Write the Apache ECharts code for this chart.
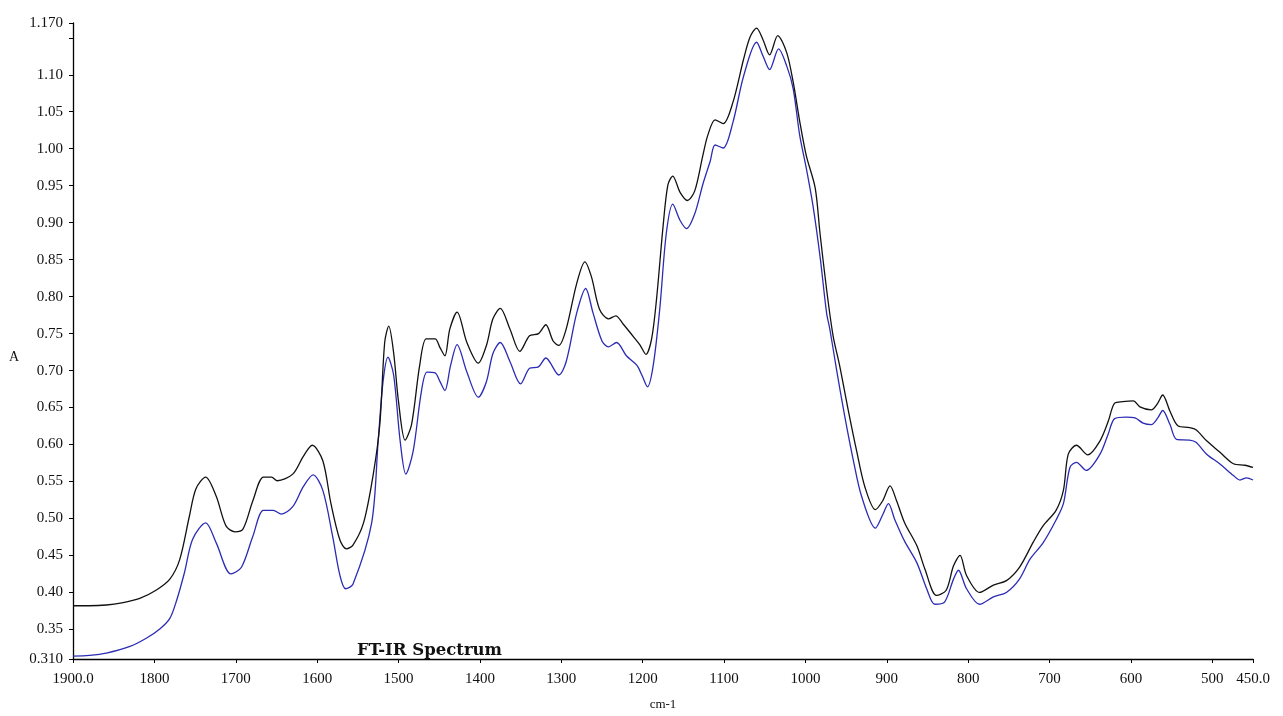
<!DOCTYPE html>
<html>
<head>
<meta charset="utf-8">
<script src="https://cdn.jsdelivr.net/npm/echarts@6/dist/echarts.min.js"></script>
<style>
html,body{margin:0;padding:0;background:#fff;}
#chart{width:1283px;height:716px;}
</style>
</head>
<body>
<div id="chart"></div>
<script>
// Wavenumbers (cm-1) and absorbance for the upper (black) spectrum
var blackWn = [1900,1880,1859,1840,1818,1798,1781,1769,1757,1749,1737,1724,1712,1701,1691,1679,1666,1656,1649,1630,1617,1606,1593,1583,1572,1564,1556,1543,1531,1523,1517,1512,1506,1500,1492,1484,1474,1466,1455,1449,1443,1437,1428,1416,1402,1392,1384,1375,1363,1351,1339,1328,1319,1310,1303,1294,1281,1271,1263,1253,1242,1233,1224,1210,1203,1196,1189,1183,1175,1169,1163,1154,1145,1136,1126,1120,1111,1101,1089,1076,1068,1060,1052,1044,1034,1023,1015,1007,999,988,982,974,966,958,948,937,927,914,905,896,888,878,863,853,839,827,818,810,802,786,769,753,737,720,708,692,683,677,667,653,638,628,620,610,597,589,575,567,561,552,542,528,520,507,491,474,460,450];
var blackA = [0.382,0.382,0.383,0.386,0.392,0.403,0.418,0.444,0.503,0.540,0.556,0.530,0.490,0.482,0.486,0.524,0.556,0.556,0.551,0.560,0.584,0.599,0.578,0.520,0.471,0.459,0.464,0.494,0.560,0.627,0.738,0.760,0.724,0.658,0.606,0.627,0.707,0.743,0.743,0.731,0.720,0.756,0.779,0.738,0.710,0.734,0.770,0.784,0.756,0.726,0.747,0.750,0.762,0.740,0.734,0.756,0.818,0.847,0.827,0.783,0.770,0.774,0.763,0.744,0.734,0.722,0.743,0.796,0.894,0.951,0.963,0.941,0.930,0.943,0.991,1.018,1.039,1.034,1.063,1.121,1.151,1.163,1.147,1.127,1.153,1.130,1.090,1.037,0.991,0.947,0.885,0.810,0.747,0.707,0.650,0.591,0.543,0.512,0.524,0.544,0.524,0.494,0.463,0.431,0.396,0.403,0.436,0.450,0.423,0.400,0.410,0.416,0.434,0.468,0.490,0.511,0.538,0.587,0.599,0.586,0.605,0.631,0.656,0.658,0.659,0.651,0.647,0.656,0.667,0.645,0.625,0.623,0.620,0.605,0.590,0.574,0.572,0.569];

// Wavenumbers (cm-1) and absorbance for the lower (blue) spectrum
var blueWn = [1900,1880,1859,1830,1810,1793,1781,1773,1763,1753,1737,1724,1706,1693,1679,1666,1654,1644,1630,1617,1605,1593,1581,1572,1565,1556,1533,1525,1519,1513,1506,1498,1491,1482,1472,1465,1455,1449,1443,1436,1428,1416,1402,1392,1384,1375,1363,1350,1339,1328,1319,1303,1294,1281,1270,1261,1250,1242,1232,1220,1207,1201,1194,1187,1179,1171,1163,1154,1146,1136,1126,1117,1111,1101,1089,1076,1060,1052,1044,1033,1023,1015,1007,999,991,982,974,970,962,952,941,931,914,905,898,890,878,863,851,841,829,818,812,802,786,769,753,737,724,708,692,683,675,667,655,638,628,620,606,595,585,575,567,561,552,544,528,520,507,491,474,466,458,450];
var blueA = [0.314,0.315,0.318,0.327,0.338,0.351,0.365,0.388,0.427,0.472,0.494,0.467,0.425,0.434,0.476,0.511,0.511,0.506,0.516,0.543,0.559,0.538,0.476,0.423,0.405,0.411,0.494,0.605,0.685,0.718,0.694,0.605,0.560,0.591,0.671,0.698,0.697,0.685,0.673,0.707,0.735,0.698,0.664,0.685,0.723,0.738,0.712,0.682,0.703,0.705,0.717,0.694,0.712,0.778,0.811,0.778,0.740,0.732,0.738,0.720,0.707,0.694,0.678,0.707,0.783,0.885,0.925,0.903,0.892,0.912,0.952,0.983,1.005,1.001,1.036,1.098,1.144,1.125,1.107,1.135,1.112,1.081,1.018,0.974,0.925,0.854,0.778,0.756,0.703,0.640,0.578,0.530,0.487,0.505,0.520,0.498,0.469,0.440,0.405,0.384,0.387,0.418,0.430,0.405,0.384,0.394,0.400,0.418,0.445,0.467,0.498,0.520,0.569,0.576,0.565,0.587,0.614,0.635,0.637,0.636,0.629,0.627,0.636,0.646,0.627,0.607,0.606,0.603,0.587,0.574,0.558,0.552,0.555,0.552];

// Tick values
var xTicks = [1900,1800,1700,1600,1500,1400,1300,1200,1100,1000,900,800,700,600,500,450];
var yLabelTicks = [0.31,0.35,0.40,0.45,0.50,0.55,0.60,0.65,0.70,0.75,0.80,0.85,0.90,0.95,1.00,1.05,1.10,1.17];
var yTickMarks = [0.31,0.35,0.40,0.45,0.50,0.55,0.60,0.65,0.70,0.75,0.80,0.85,0.90,0.95,1.00,1.05,1.10,1.15,1.17];

function zip(a, b) { return a.map(function (v, i) { return [v, b[i]]; }); }

var chart = echarts.init(document.getElementById('chart'), null, { renderer: 'canvas' });
var font = '"Liberation Serif", "Times New Roman", serif';
chart.setOption({
  animation: false,
  backgroundColor: '#ffffff',
  title: {
    text: 'FT-IR Spectrum',
    left: 357,
    top: 642,
    padding: 0,
    textStyle: { fontFamily: '"DejaVu Serif", serif', fontWeight: 'bold', fontSize: 16.5, color: '#111' }
  },
  graphic: [
    {
      type: 'text', left: 9, top: 350,
      style: { text: 'A', font: '14px "Liberation Serif", serif', fill: '#111' }
    }
  ],
  grid: { left: 73, right: 30, top: 23, bottom: 48, containLabel: false },
  xAxis: {
    type: 'value',
    inverse: true,
    min: 450,
    max: 1900,
    name: 'cm-1',
    nameLocation: 'middle',
    nameGap: 39,
    nameTextStyle: { fontFamily: font, fontSize: 13, color: '#111' },
    axisLine: { show: true, lineStyle: { color: '#000', width: 1.3 } },
    axisTick: { show: true, length: 4, customValues: xTicks, lineStyle: { color: '#000' } },
    axisLabel: {
      customValues: xTicks,
      margin: 13,
      fontFamily: font, fontSize: 15, color: '#111',
      formatter: function (v) { return (v === 1900 || v === 450) ? v.toFixed(1) : String(v); }
    },
    splitLine: { show: false }
  },
  yAxis: {
    type: 'value',
    min: 0.31,
    max: 1.17,
    axisLine: { show: true, lineStyle: { color: '#000', width: 1.3 } },
    axisTick: { show: true, length: 4, customValues: yTickMarks, lineStyle: { color: '#000' } },
    axisLabel: {
      customValues: yLabelTicks,
      margin: 10,
      padding: [0, 0, 8, 0],
      fontFamily: font, fontSize: 15, color: '#111',
      formatter: function (v) {
        if (Math.abs(v - 0.31) < 1e-6 || Math.abs(v - 1.17) < 1e-6) return v.toFixed(3);
        return v.toFixed(2);
      }
    },
    splitLine: { show: false }
  },
  series: [
    {
      name: 'black', type: 'line', data: zip(blackWn, blackA), showSymbol: false, smooth: 0.3,
      lineStyle: { color: '#111111', width: 1.3 }, z: 3
    },
    {
      name: 'blue', type: 'line', data: zip(blueWn, blueA), showSymbol: false, smooth: 0.3,
      lineStyle: { color: '#2b2bb5', width: 1.3 }, z: 2
    }
  ]
});
</script>
</body>
</html>
